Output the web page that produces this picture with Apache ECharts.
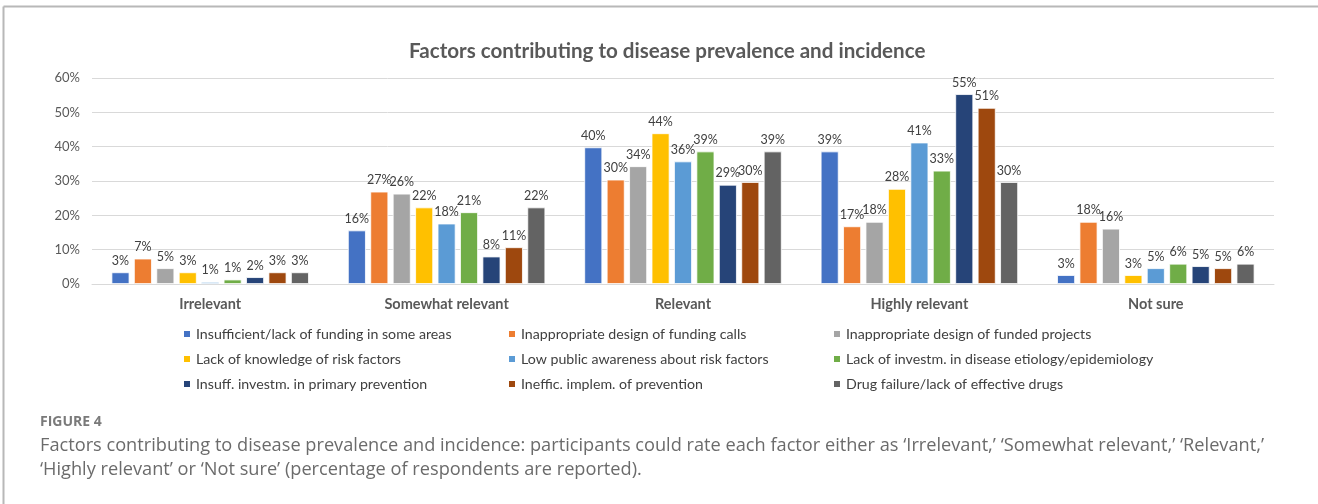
<!DOCTYPE html>
<html>
<head>
<meta charset="utf-8">
<script src="https://cdn.jsdelivr.net/npm/echarts@6/dist/echarts.min.js"></script>
<style>
html,body{margin:0;padding:0;background:#fff;}
#c{width:1318px;height:504px;}
</style>
</head>
<body>
<div id="c"></div>
<script>
const categories = ['Irrelevant', 'Somewhat relevant', 'Relevant', 'Highly relevant', 'Not sure'];
const seriesNames = [
  'Insufficient/lack of funding in some areas',
  'Inappropriate design of funding calls',
  'Inappropriate design of funded projects',
  'Lack of knowledge of risk factors',
  'Low public awareness about risk factors',
  'Lack of investm. in disease etiology/epidemiology',
  'Insuff. investm. in primary prevention',
  'Ineffic. implem. of prevention',
  'Drug failure/lack of effective drugs'
];
const funding       = [3.4, 15.6, 39.8, 38.6, 2.6];
const fundingCalls  = [7.4, 26.9, 30.4, 16.8, 18.1];
const fundedProj    = [4.6, 26.3, 34.3, 18.1, 16.1];
const knowledge     = [3.4, 22.3, 43.9, 27.7, 2.6];
const awareness     = [0.6, 17.6, 35.7, 41.2, 4.6];
const etiology      = [1.3, 20.9, 38.6, 33.0, 5.9];
const primaryPrev   = [2.0, 8.0, 28.9, 55.3, 5.2];
const implemPrev    = [3.4, 10.7, 29.7, 51.3, 4.6];
const drugs         = [3.4, 22.3, 38.6, 29.7, 5.9];
const yTicks = [0, 10, 20, 30, 40, 50, 60];

const valuesList = [funding, fundingCalls, fundedProj, knowledge, awareness, etiology, primaryPrev, implemPrev, drugs];
const colors = ['#4472C4', '#ED7D31', '#A5A5A5', '#FFC000', '#5B9BD5', '#70AD47', '#264478', '#9E480E', '#636363'];

const chartFont = 'Lato';
const series = valuesList.map((vals, i) => ({
  name: seriesNames[i],
  type: 'bar',
  data: vals,
  barGap: '25%',
  barCategoryGap: '16.5%',
  itemStyle: { color: colors[i], borderColor: '#fff', borderWidth: 0.8 },
  label: {
    show: true, position: 'top', distance: 5,
    formatter: p => Math.round(p.value) + '%',
    color: '#404040', fontSize: 12.5, fontFamily: chartFont
  }
}));

function legendCol(idx, left) {
  return {
    orient: 'vertical',
    data: idx.map(i => seriesNames[i]),
    left: left, top: 321,
    itemWidth: 8, itemHeight: 8, itemGap: 9,
    icon: 'rect',
    textStyle: { fontFamily: chartFont, fontSize: 14.2, lineHeight: 16, color: '#404040' }
  };
}

const chart = echarts.init(document.getElementById('c'), null, { renderer: 'canvas' });
chart.setOption({
  animation: false,
  color: colors,
  title: {
    text: 'Factors contributing to disease prevalence and incidence',
    left: 404, top: 36,
    textStyle: { fontFamily: chartFont, fontWeight: 'bold', fontSize: 20.6, color: '#595959' }
  },
  legend: [legendCol([0, 3, 6], 177), legendCol([1, 4, 7], 502), legendCol([2, 5, 8], 827)],
  grid: { left: 92, right: 44, top: 78, bottom: 220, containLabel: false },
  xAxis: {
    type: 'category', data: categories,
    axisLine: { lineStyle: { color: '#d9d9d9' } },
    axisTick: { show: false },
    axisLabel: { fontFamily: chartFont, fontWeight: 'bold', fontSize: 14.5, color: '#595959', margin: 13 }
  },
  yAxis: {
    type: 'value', min: 0, max: 60, interval: 10,
    axisLabel: { formatter: v => yTicks.includes(v) ? v + '%' : '', fontFamily: chartFont, fontSize: 13, color: '#595959', margin: 12 },
    axisLine: { show: false }, axisTick: { show: false },
    splitLine: { lineStyle: { color: '#d9d9d9' } }
  },
  graphic: [
    { type: 'line', shape: { x1: 3.5, y1: 6.5, x2: 1318, y2: 6.5 }, style: { stroke: '#b8b8b8', lineWidth: 2 } },
    { type: 'line', shape: { x1: 3.5, y1: 6.5, x2: 3.5, y2: 504 }, style: { stroke: '#b8b8b8', lineWidth: 2 } },
    { type: 'text', left: 40, top: 415, style: { text: 'FIGURE 4', fontFamily: 'Open Sans', fontWeight: 'bold', fontSize: 14, fill: '#7a7a7a' } },
    { type: 'text', left: 40, top: 437, style: { text: 'Factors contributing to disease prevalence and incidence: participants could rate each factor either as \u2018Irrelevant,\u2019 \u2018Somewhat relevant,\u2019 \u2018Relevant,\u2019', fontFamily: 'Open Sans', fontSize: 18.2, fill: '#6b6b6b' } },
    { type: 'text', left: 40, top: 461, style: { text: '\u2018Highly relevant\u2019 or \u2018Not sure\u2019 (percentage of respondents are reported).', fontFamily: 'Open Sans', fontSize: 18.2, fill: '#6b6b6b' } }
  ],
  series: series
});
</script>
</body>
</html>
